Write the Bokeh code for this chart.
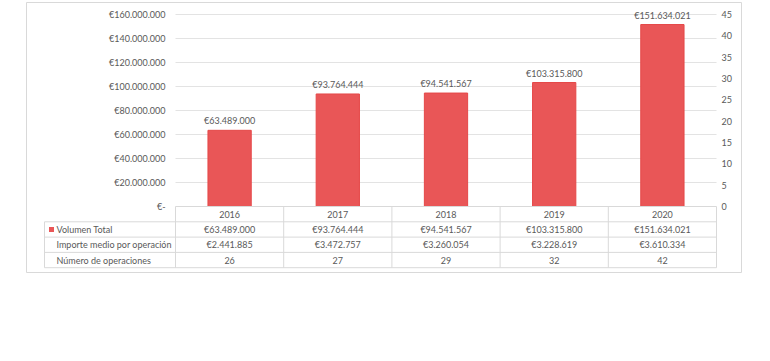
from bokeh.plotting import figure
from bokeh.models import LinearAxis, Range1d, FixedTicker, ColumnDataSource
from bokeh.core.properties import value
from bokeh.embed import file_html
from bokeh.resources import INLINE

# ---------------- data ----------------
years = ["2016", "2017", "2018", "2019", "2020"]
volumen_total = [63489000, 93764444, 94541567, 103315800, 151634021]
importe_medio = [2441885, 3472757, 3260054, 3228619, 3610334]
num_operaciones = [26, 27, 29, 32, 42]
row_labels = ["Volumen Total", "Importe medio por operación", "Número de operaciones"]
left_ticks = [0, 20000000, 40000000, 60000000, 80000000, 100000000, 120000000, 140000000, 160000000]
left_tick_labels = ["€-", "€20.000.000", "€40.000.000", "€60.000.000", "€80.000.000",
                    "€100.000.000", "€120.000.000", "€140.000.000", "€160.000.000"]
right_ticks = [0, 5, 10, 15, 20, 25, 30, 35, 40, 45]


def eur(v):
    return "€" + f"{v:,}".replace(",", ".")


# ---------------- layout (canvas pixels) ----------------
W, H = 762, 300
FL, FR, FT, FB = 26, 741, 2, 272          # frame edges
PL, PR, PT, PB = 175, 716, 14, 206        # plot area edges
n = len(years)
col_px = (PR - PL) / n
dpp = left_ticks[-1] / (PB - PT)          # data per pixel (left)
rpp = right_ticks[-1] / (PB - PT)         # data per pixel (right)
row_h = 15.3 * dpp
label_left = (44 - PL) / col_px
label_text_x = (56 - PL) / col_px
marker_x = (51 - PL) / col_px

TXT = "#595959"
FONT = "Lato"
FS = "9px"
LINE = "#D9D9D9"
BAR = "#E95657"

p = figure(width=W, height=H,
           x_range=Range1d(-(PL - FL) / col_px, n + (FR - PR) / col_px),
           y_range=Range1d(-(FB - PB) * dpp, left_ticks[-1] + (PT - FT) * dpp),
           x_axis_type=None, y_axis_type=None,
           toolbar_location=None, output_backend="svg",
           min_border_left=FL, min_border_right=W - FR,
           min_border_top=FT, min_border_bottom=H - FB)
p.outline_line_color = LINE
p.outline_line_width = 1
p.background_fill_color = "white"
p.border_fill_color = "white"
p.extra_y_ranges = {"ops": Range1d(-(FB - PB) * rpp, right_ticks[-1] + (PT - FT) * rpp)}

# left axis
la = LinearAxis(ticker=FixedTicker(ticks=left_ticks), fixed_location=0)
la.major_label_overrides = {t: s for t, s in zip(left_ticks, left_tick_labels)}
p.add_layout(la, "left")
# right axis
ra = LinearAxis(ticker=FixedTicker(ticks=right_ticks), y_range_name="ops", fixed_location=n)
p.add_layout(ra, "right")
for ax, so in ((la, 10), (ra, 5)):
    ax.axis_line_color = None
    ax.major_tick_line_color = None
    ax.minor_tick_line_color = None
    ax.major_tick_out = 0
    ax.major_tick_in = 0
    ax.major_label_standoff = so
    ax.major_label_text_font = FONT
    ax.major_label_text_font_size = FS
    ax.major_label_text_color = TXT

# gridlines
gt = left_ticks[1:]
p.segment(x0=[0] * len(gt), x1=[n] * len(gt), y0=gt, y1=gt, line_color="#E3E3E3", line_width=1)

# bars
centers = [i + 0.5 for i in range(n)]
src = ColumnDataSource(dict(x=centers, top=volumen_total, lab=[eur(v) for v in volumen_total]))
p.vbar(x="x", top="top", bottom=0, width=0.4, source=src,
       fill_color=BAR, line_color="#E54848", line_width=1)
p.text(x="x", y="top", text="lab", source=src, text_align="center", text_baseline="bottom",
       y_offset=-4, text_font=value(FONT), text_font_size=FS, text_color=TXT)

# table lines
hy = [0, -row_h, -2 * row_h, -3 * row_h, -4 * row_h]
hx0 = [0, label_left, label_left, label_left, label_left]
p.segment(x0=hx0, x1=[n] * len(hy), y0=hy, y1=hy, line_color=LINE, line_width=1)
vx = list(range(n + 1))
p.segment(x0=vx, x1=vx, y0=[0] * len(vx), y1=[-4 * row_h] * len(vx), line_color=LINE, line_width=1)
p.segment(x0=[label_left], x1=[label_left], y0=[-row_h], y1=[-4 * row_h], line_color=LINE, line_width=1)

# table texts
rows = [years,
        [eur(v) for v in volumen_total],
        [eur(v) for v in importe_medio],
        [str(v) for v in num_operaciones]]
xs, ys, ts = [], [], []
for r, vals in enumerate(rows):
    for i, t in enumerate(vals):
        xs.append(centers[i])
        ys.append(-(r + 0.5) * row_h)
        ts.append(t)
p.text(x=xs, y=ys, text=ts, text_align="center", text_baseline="middle",
       text_font=value(FONT), text_font_size=FS, text_color=TXT)
p.text(x=[label_text_x] * 3, y=[-(r + 1.5) * row_h for r in range(3)], text=row_labels,
       text_align="left", text_baseline="middle",
       text_font=value(FONT), text_font_size=FS, text_color=TXT)
p.scatter(x=[marker_x], y=[-1.5 * row_h], marker="square", size=5,
          fill_color=BAR, line_color=None)

open("out.html", "w").write(file_html(p, INLINE))
